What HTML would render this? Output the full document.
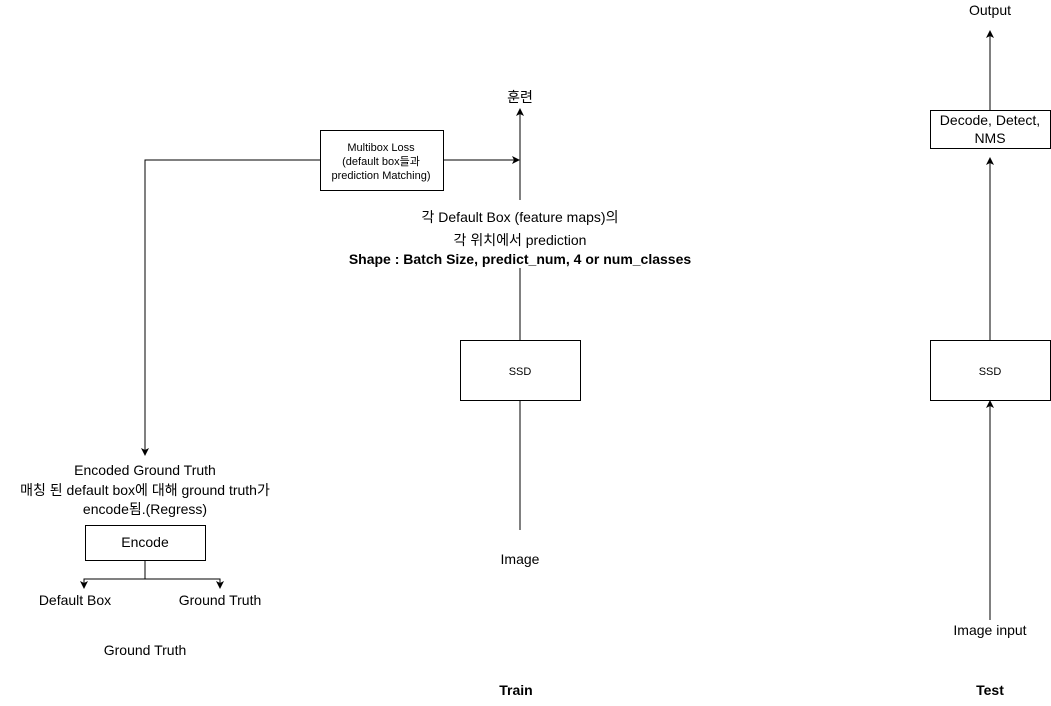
<!DOCTYPE html>
<html><head><meta charset="utf-8"><style>
body{margin:0;background:#fff;}
svg text{font-family:"Liberation Sans","Noto Sans CJK KR",sans-serif;fill:#000;}
</style></head><body>
<svg width="1051" height="701" viewBox="0 0 1051 701" xmlns="http://www.w3.org/2000/svg">
<defs><marker id="a" markerWidth="8" markerHeight="8" refX="7" refY="4" orient="auto" markerUnits="userSpaceOnUse"><path d="M0,0 L8,4 L0,8 L2,4 z" fill="#000"/></marker></defs>
<g stroke="#000" stroke-width="1" fill="none">
<rect x="320.5" y="130.5" width="123" height="60" fill="#fff"/>
<polyline points="320,160 145,160 145,455" marker-end="url(#a)"/>
<line x1="443" y1="160" x2="519" y2="160" marker-end="url(#a)"/>
<line x1="520" y1="200" x2="520" y2="109" marker-end="url(#a)"/>
<line x1="520" y1="268" x2="520" y2="340"/>
<rect x="460.5" y="340.5" width="120" height="60" fill="#fff"/>
<line x1="520" y1="400" x2="520" y2="530"/>
<rect x="85.5" y="525.5" width="120" height="35" fill="#fff"/>
<line x1="145" y1="560" x2="145" y2="579"/>
<polyline points="84,588 84,579 220,579 220,588" marker-end="url(#a)"/>
<line x1="84" y1="579" x2="84" y2="588" marker-end="url(#a)"/>
<line x1="990" y1="110" x2="990" y2="31" marker-end="url(#a)"/>
<rect x="930.5" y="110.5" width="120" height="38" fill="#fff"/>
<line x1="990" y1="340" x2="990" y2="158" marker-end="url(#a)"/>
<rect x="930.5" y="340.5" width="120" height="60" fill="#fff"/>
<line x1="990" y1="620" x2="990" y2="401" marker-end="url(#a)"/>
</g>
<g text-anchor="middle">
<text x="381" y="151" font-size="11">Multibox Loss</text>
<text x="381" y="165" font-size="11">(default box들과</text>
<text x="381" y="179" font-size="11">prediction Matching)</text>
<text x="520" y="102" font-size="14">훈련</text>
<text x="520" y="222" font-size="14">각 Default Box (feature maps)의</text>
<text x="520" y="245" font-size="14">각 위치에서 prediction</text>
<text x="520" y="264" font-size="14" font-weight="bold">Shape : Batch Size, predict_num, 4 or num_classes</text>
<text x="520" y="375" font-size="11">SSD</text>
<text x="520" y="564" font-size="14">Image</text>
<text x="145" y="475" font-size="14">Encoded Ground Truth</text>
<text x="145" y="495" font-size="14">매칭 된 default box에 대해 ground truth가</text>
<text x="145" y="514" font-size="14">encode됨.(Regress)</text>
<text x="145" y="547" font-size="14">Encode</text>
<text x="75" y="605" font-size="14">Default Box</text>
<text x="220" y="605" font-size="14">Ground Truth</text>
<text x="145" y="655" font-size="14">Ground Truth</text>
<text x="516" y="695" font-size="14" font-weight="bold">Train</text>
<text x="990" y="695" font-size="14" font-weight="bold">Test</text>
<text x="990" y="15" font-size="14">Output</text>
<text x="990" y="125" font-size="14">Decode, Detect,</text>
<text x="990" y="143" font-size="14">NMS</text>
<text x="990" y="375" font-size="11">SSD</text>
<text x="990" y="635" font-size="14">Image input</text>
</g>
</svg>
</body></html>
